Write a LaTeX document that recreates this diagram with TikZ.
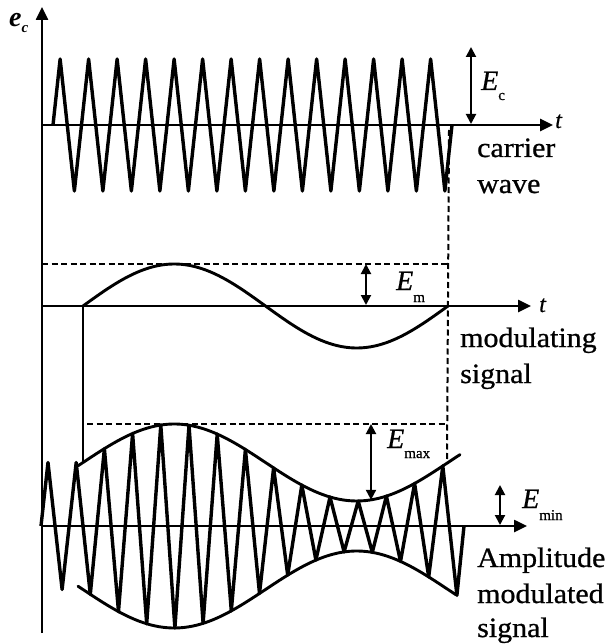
\documentclass[tikz,border=0pt]{standalone}
\usepackage{fontspec}
\setmainfont{Liberation Serif}
\newfontfamily\lblfont[FakeStretch=1.07,FakeBold=0.8]{Liberation Serif}
\newfontfamily\efont[FakeBold=0.6]{Liberation Serif}
\usetikzlibrary{arrows.meta}
\newcommand\subsz{\fontsize{15bp}{15bp}\selectfont}
\begin{document}
\begin{tikzpicture}[x=1bp,y=-1bp,
  axis/.style={line width=2.5bp,-{Triangle[length=13bp,width=12bp]}},
  wave/.style={line width=3.4bp,line join=round},
  env/.style={line width=2.9bp,line cap=round},
  guide/.style={line width=2bp,dash pattern=on 6bp off 3.5bp},
  dim/.style={line width=2bp,{Triangle[length=10bp,width=10bp]}-{Triangle[length=10bp,width=10bp]}},
  lbl/.style={inner sep=0pt,anchor=base west,font={\lblfont\fontsize{28bp}{34bp}\selectfont}},
  elbl/.style={inner sep=0pt,anchor=base west,font={\efont\fontsize{28bp}{34bp}\selectfont}},
  tlbl/.style={inner sep=0pt,anchor=base west,font={\efont\fontsize{24bp}{28bp}\selectfont\itshape}}
]
\useasboundingbox (0,0) rectangle (607,644);

% coordinates
\coordinate (O) at (42,633);
\coordinate (Ytip) at (42,7);
\coordinate (C0) at (42,125);
\coordinate (Ctip) at (553,125);
\coordinate (M0) at (42,306);
\coordinate (Mtip) at (531,306);
\coordinate (A0) at (42,526);
\coordinate (Atip) at (527,526);

% axes
\draw[axis] (O) -- (Ytip);
\draw[axis] (C0) -- (Ctip);
\draw[axis] (M0) -- (Mtip);
\draw[axis] (A0) -- (Atip);

% carrier wave
\draw[wave] (53,125) \foreach \k in {1,...,56}{ -- ({53+7.125*\k},{125-66*sin(90*\k)}) };

% modulating signal
\draw[env] plot[domain=83:448,samples=90] (\x,{306-42*sin((\x-83)/365*360)});

% AM envelope
\draw[env] plot[domain=78:460,samples=90] (\x,{526-(63.5+38.5*sin((\x-83)/365*360))});
\draw[env] plot[domain=78:456,samples=90] (\x,{526+(63.5+38.5*sin((\x-83)/365*360))});

% AM wave
\draw[wave] (41,526) \foreach \j [evaluate=\j as \xx using 48+14.1*\j,
   evaluate=\j as \yy using 526-cos(180*\j)*(\j<3 ? 63.5 : 63.5+38.5*sin((14.1*\j-35)/365*360))]
   in {0,...,29}{ -- (\xx,\yy) } -- (464,526);

% guides
\coordinate (G1a) at (42,264);
\coordinate (G1b) at (448,264);
\coordinate (G2a) at (87,424);
\coordinate (G2b) at (448,424);
\coordinate (Vt) at (449,130);
\coordinate (Vb) at (447,464);
\draw[guide] (G1a) -- (G1b);
\draw[guide] (G2a) -- (G2b);
\draw[guide] (Vt) -- (Vb);

% solid link
\coordinate (L1) at (83,306);
\coordinate (L2) at (83,463);
\draw[line width=2.9bp] (L1) -- (L2);

% dimension arrows
\coordinate (EcT) at (471,47);
\coordinate (EcB) at (471,124);
\coordinate (EmT) at (366,264);
\coordinate (EmB) at (366,305);
\coordinate (ExT) at (371,424);
\coordinate (ExB) at (371,{526-(63.5+38.5*sin(288/365*360))});
\coordinate (EnT) at (500,485);
\coordinate (EnB) at (500,525);
\draw[dim] (EcT) -- (EcB);
\draw[dim] (EmT) -- (EmB);
\draw[dim] (ExT) -- (ExB);
\draw[dim] (EnT) -- (EnB);

% labels
\node[inner sep=0pt,anchor=base west,font={\fontsize{28bp}{30bp}\selectfont\bfseries\itshape}] (ylab) at (9,27) {e\raisebox{-6bp}{\subsz c}};
\node[tlbl] (t1) at (555,128) {t};
\node[tlbl] (t2) at (539,312) {t};
\node[elbl] (Ec) at (481,90) {\textit{E}\raisebox{-10bp}{\subsz c}};
\node[elbl] (Em) at (396,290) {\textit{E}\raisebox{-12bp}{\subsz m}};
\node[elbl] (Ex) at (387,448) {\textit{E}\raisebox{-10bp}{\subsz max}};
\node[elbl] (En) at (522,508) {\textit{E}\raisebox{-12bp}{\subsz min}};

\node[lbl] (cw1) at (477,157) {carrier};
\node[lbl] (cw2) at (477,193) {wave};
\node[lbl] (ms1) at (460,347) {modulating};
\node[lbl] (ms2) at (460,383) {signal};
\node[lbl] (am1) at (477,567) {Amplitude};
\node[lbl] (am2) at (477,603) {modulated};
\node[lbl] (am3) at (477,637) {signal};
\end{tikzpicture}
\end{document}
